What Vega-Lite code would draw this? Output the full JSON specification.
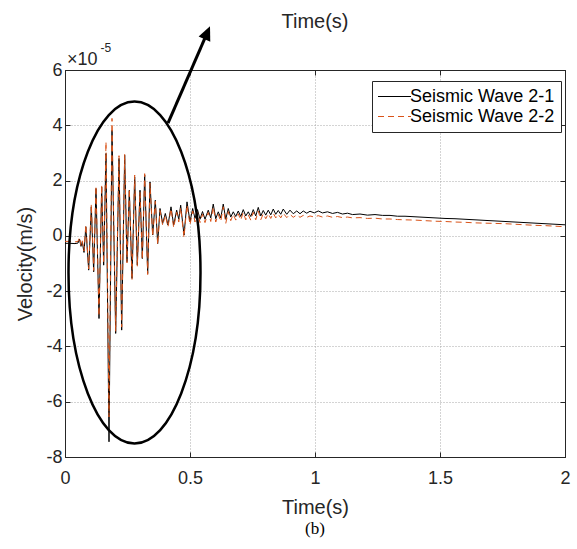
{
  "$schema": "https://vega.github.io/schema/vega-lite/v6.json",
  "width": 500,
  "height": 387,
  "autosize": {"type": "none"},
  "padding": {"left": 65, "top": 70, "right": 12, "bottom": 92},
  "background": "white",
  "config": {
    "font": "Liberation Sans",
    "view": {"stroke": "#333333", "strokeWidth": 1}
  },
  "title": {"text": "(b)", "orient": "bottom", "font": "Liberation Serif", "fontSize": 17, "fontWeight": "normal", "color": "#000000", "offset": 4},
  "datasets": {
    "w1": [
      {"t":0,"v":-0.27},{"t":0.02,"v":-0.27},{"t":0.04,"v":-0.28},{"t":0.052,"v":-0.26},{"t":0.058,"v":-0.12},{"t":0.064,"v":-0.38},{"t":0.069,"v":-0.22},{"t":0.076,"v":-0.6},{"t":0.0833,"v":0.33},{"t":0.0947,"v":-1.24},{"t":0.1053,"v":1.05},{"t":0.1147,"v":-1.3},{"t":0.124,"v":1.71},{"t":0.136,"v":-2.99},{"t":0.1467,"v":1.77},{"t":0.1547,"v":-1.06},{"t":0.164,"v":2.98},{"t":0.176,"v":-7.45},{"t":0.188,"v":3.82},{"t":0.2027,"v":-3.53},{"t":0.216,"v":2.8},{"t":0.2267,"v":-3.41},{"t":0.2387,"v":2.92},{"t":0.248,"v":-0.94},{"t":0.2573,"v":1.65},{"t":0.268,"v":-1.54},{"t":0.2787,"v":2.13},{"t":0.2893,"v":-1.06},{"t":0.3,"v":1.65},{"t":0.3093,"v":-0.82},{"t":0.3187,"v":2.2},{"t":0.3307,"v":-1.36},{"t":0.34,"v":1.95},{"t":0.3507,"v":0.03},{"t":0.3613,"v":1.29},{"t":0.3707,"v":-0.28},{"t":0.38,"v":0.99},{"t":0.3907,"v":0.45},{"t":0.4013,"v":0.81},{"t":0.412,"v":0.39},{"t":0.424,"v":1.05},{"t":0.4347,"v":0.39},{"t":0.4467,"v":0.93},{"t":0.455,"v":0.6},{"t":0.4627,"v":1.11},{"t":0.476,"v":0.03},{"t":0.488,"v":1.23},{"t":0.5,"v":0.51},{"t":0.5107,"v":0.99},{"t":0.52,"v":0.63},{"t":0.53,"v":0.95},{"t":0.54,"v":0.6},{"t":0.55,"v":0.88},{"t":0.56,"v":0.6},{"t":0.573,"v":0.93},{"t":0.583,"v":0.65},{"t":0.593,"v":1.15},{"t":0.603,"v":0.62},{"t":0.613,"v":0.87},{"t":0.623,"v":0.65},{"t":0.633,"v":1.15},{"t":0.643,"v":0.6},{"t":0.653,"v":0.99},{"t":0.663,"v":0.68},{"t":0.673,"v":0.87},{"t":0.683,"v":0.7},{"t":0.693,"v":0.9},{"t":0.703,"v":0.7},{"t":0.713,"v":0.95},{"t":0.723,"v":0.72},{"t":0.733,"v":0.87},{"t":0.743,"v":0.7},{"t":0.753,"v":0.95},{"t":0.763,"v":0.72},{"t":0.773,"v":1.03},{"t":0.783,"v":0.72},{"t":0.793,"v":0.92},{"t":0.803,"v":0.75},{"t":0.813,"v":0.93},{"t":0.823,"v":0.76},{"t":0.833,"v":0.97},{"t":0.843,"v":0.78},{"t":0.853,"v":0.92},{"t":0.863,"v":0.78},{"t":0.873,"v":0.97},{"t":0.887,"v":0.78},{"t":0.9,"v":0.93},{"t":0.913,"v":0.8},{"t":0.927,"v":0.9},{"t":0.94,"v":0.8},{"t":0.953,"v":0.9},{"t":0.967,"v":0.82},{"t":0.98,"v":0.89},{"t":0.997,"v":0.83},{"t":1.013,"v":0.9},{"t":1.03,"v":0.83},{"t":1.05,"v":0.87},{"t":1.07,"v":0.81},{"t":1.09,"v":0.85},{"t":1.11,"v":0.79},{"t":1.13,"v":0.82},{"t":1.15,"v":0.77},{"t":1.18,"v":0.79},{"t":1.21,"v":0.75},{"t":1.24,"v":0.77},{"t":1.27,"v":0.74},{"t":1.3,"v":0.74},{"t":1.33,"v":0.71},{"t":1.36,"v":0.71},{"t":1.4,"v":0.69},{"t":1.44,"v":0.67},{"t":1.48,"v":0.65},{"t":1.52,"v":0.63},{"t":1.56,"v":0.62},{"t":1.6,"v":0.6},{"t":1.64,"v":0.58},{"t":1.68,"v":0.56},{"t":1.72,"v":0.54},{"t":1.76,"v":0.52},{"t":1.8,"v":0.5},{"t":1.84,"v":0.48},{"t":1.88,"v":0.46},{"t":1.92,"v":0.44},{"t":1.96,"v":0.42},{"t":2.0,"v":0.4}
    ],
    "w2": [
      {"t":0,"v":-0.2},{"t":0.02,"v":-0.2},{"t":0.04,"v":-0.22},{"t":0.052,"v":-0.2},{"t":0.058,"v":-0.05},{"t":0.064,"v":-0.35},{"t":0.069,"v":-0.18},{"t":0.076,"v":-0.55},{"t":0.0833,"v":0.4},{"t":0.0947,"v":-1.2},{"t":0.1053,"v":1.15},{"t":0.1147,"v":-1.25},{"t":0.124,"v":1.8},{"t":0.136,"v":-2.9},{"t":0.1467,"v":1.85},{"t":0.1547,"v":-1.0},{"t":0.164,"v":3.4},{"t":0.176,"v":-6.55},{"t":0.188,"v":4.25},{"t":0.2027,"v":-3.45},{"t":0.216,"v":2.9},{"t":0.2267,"v":-3.3},{"t":0.2387,"v":2.95},{"t":0.248,"v":-0.98},{"t":0.2573,"v":1.7},{"t":0.268,"v":-1.6},{"t":0.2787,"v":2.2},{"t":0.2893,"v":-1.1},{"t":0.3,"v":1.58},{"t":0.3093,"v":-0.85},{"t":0.3187,"v":2.25},{"t":0.3307,"v":-1.4},{"t":0.34,"v":1.9},{"t":0.3507,"v":-0.02},{"t":0.3613,"v":1.25},{"t":0.3707,"v":-0.32},{"t":0.38,"v":0.92},{"t":0.3907,"v":0.38},{"t":0.4013,"v":0.75},{"t":0.412,"v":0.32},{"t":0.424,"v":0.98},{"t":0.4347,"v":0.3},{"t":0.4467,"v":0.85},{"t":0.455,"v":0.5},{"t":0.4627,"v":1.02},{"t":0.476,"v":-0.05},{"t":0.488,"v":1.12},{"t":0.5,"v":0.4},{"t":0.5107,"v":0.9},{"t":0.52,"v":0.5},{"t":0.53,"v":0.85},{"t":0.54,"v":0.48},{"t":0.55,"v":0.78},{"t":0.56,"v":0.48},{"t":0.573,"v":0.85},{"t":0.583,"v":0.52},{"t":0.593,"v":1.05},{"t":0.603,"v":0.5},{"t":0.613,"v":0.78},{"t":0.623,"v":0.52},{"t":0.633,"v":1.05},{"t":0.643,"v":0.45},{"t":0.653,"v":0.88},{"t":0.663,"v":0.55},{"t":0.673,"v":0.78},{"t":0.683,"v":0.57},{"t":0.693,"v":0.8},{"t":0.703,"v":0.57},{"t":0.713,"v":0.85},{"t":0.723,"v":0.58},{"t":0.733,"v":0.76},{"t":0.743,"v":0.57},{"t":0.753,"v":0.85},{"t":0.763,"v":0.58},{"t":0.773,"v":0.9},{"t":0.783,"v":0.58},{"t":0.793,"v":0.8},{"t":0.803,"v":0.62},{"t":0.813,"v":0.8},{"t":0.823,"v":0.63},{"t":0.833,"v":0.82},{"t":0.843,"v":0.65},{"t":0.853,"v":0.78},{"t":0.863,"v":0.65},{"t":0.873,"v":0.82},{"t":0.887,"v":0.66},{"t":0.9,"v":0.78},{"t":0.913,"v":0.67},{"t":0.927,"v":0.76},{"t":0.94,"v":0.67},{"t":0.953,"v":0.74},{"t":0.967,"v":0.67},{"t":0.98,"v":0.72},{"t":0.997,"v":0.68},{"t":1.013,"v":0.73},{"t":1.03,"v":0.68},{"t":1.05,"v":0.72},{"t":1.07,"v":0.67},{"t":1.09,"v":0.7},{"t":1.11,"v":0.66},{"t":1.13,"v":0.68},{"t":1.15,"v":0.65},{"t":1.18,"v":0.66},{"t":1.21,"v":0.63},{"t":1.24,"v":0.64},{"t":1.27,"v":0.61},{"t":1.3,"v":0.61},{"t":1.33,"v":0.59},{"t":1.36,"v":0.58},{"t":1.4,"v":0.57},{"t":1.44,"v":0.55},{"t":1.48,"v":0.53},{"t":1.52,"v":0.52},{"t":1.56,"v":0.5},{"t":1.6,"v":0.49},{"t":1.64,"v":0.47},{"t":1.68,"v":0.46},{"t":1.72,"v":0.45},{"t":1.76,"v":0.44},{"t":1.8,"v":0.42},{"t":1.84,"v":0.4},{"t":1.88,"v":0.38},{"t":1.92,"v":0.37},{"t":1.96,"v":0.35},{"t":2.0,"v":0.33}
    ]
  },
  "resolve": {"axis": {"x": "independent", "y": "independent"}},
  "layer": [
    {
      "data": {"name": "w1"},
      "mark": {"type": "line", "strokeWidth": 1},
      "encoding": {
        "x": {"field": "t", "type": "quantitative", "scale": {"domain": [0, 2], "nice": false, "zero": false},
          "axis": {"orient": "bottom", "values": [0, 0.5, 1, 1.5, 2], "format": "~g", "title": "Time(s)", "titleFont": "Liberation Sans", "titleFontSize": 20, "titleFontWeight": "normal", "titleColor": "#262626", "titlePadding": 10, "labelFont": "Liberation Sans", "labelFontSize": 18, "labelColor": "#262626", "labelPadding": 17, "labelFlush": false, "labelOverlap": false, "tickSize": -5, "tickColor": "#262626", "domainColor": "#262626", "grid": true, "gridDash": [1, 2], "gridColor": "#a8a8a8", "gridWidth": 1}},
        "y": {"field": "v", "type": "quantitative", "scale": {"domain": [-8, 6], "nice": false, "zero": false},
          "axis": {"orient": "left", "values": [-8, -6, -4, -2, 0, 2, 4, 6], "labelExpr": "'' + datum.value", "title": "Velocity(m/s)", "titleFont": "Liberation Sans", "titleFontSize": 20, "titleFontWeight": "normal", "titleColor": "#262626", "titlePadding": 10, "labelFont": "Liberation Sans", "labelFontSize": 18, "labelColor": "#262626", "labelPadding": 8, "labelFlush": false, "labelOverlap": false, "tickSize": -5, "tickColor": "#262626", "domainColor": "#262626", "grid": true, "gridDash": [1, 2], "gridColor": "#a8a8a8", "gridWidth": 1}},
        "color": {"datum": "Seismic Wave 2-1", "type": "nominal",
          "scale": {"domain": ["Seismic Wave 2-1", "Seismic Wave 2-2"], "range": ["#000000", "#D95319"]},
          "legend": {"title": null, "orient": "none", "legendX": 307, "legendY": 11, "direction": "vertical", "strokeColor": "#262626", "fillColor": "#ffffff", "padding": 6, "rowPadding": 1, "symbolType": "M -1.94 0 L 1.94 0", "symbolSize": 289, "symbolStrokeWidth": 1.2, "labelFont": "Liberation Sans", "labelFontSize": 18, "labelColor": "#000000", "labelOffset": 13,
            "encode": {"symbols": {"update": {"x": {"value": 16.5}, "strokeDash": {"signal": "datum.value === 'Seismic Wave 2-2' ? [6, 4] : [1, 0]"}}}}}}
      }
    },
    {
      "data": {"name": "w2"},
      "mark": {"type": "line", "strokeWidth": 1, "strokeDash": [6, 4]},
      "encoding": {
        "x": {"field": "t", "type": "quantitative", "scale": {"domain": [0, 2], "nice": false, "zero": false}, "axis": null},
        "y": {"field": "v", "type": "quantitative", "scale": {"domain": [-8, 6], "nice": false, "zero": false}, "axis": null},
        "color": {"datum": "Seismic Wave 2-2", "type": "nominal"}
      }
    },
    {
      "data": {"values": [{}]},
      "mark": {"type": "point", "shape": "M 0 -1 A 0.386 1 0 1 1 0 1 A 0.386 1 0 1 1 0 -1 Z", "filled": false, "stroke": "#000000", "strokeWidth": 2.5, "size": 116964, "opacity": 1},
      "encoding": {
        "x": {"datum": 0.278, "type": "quantitative", "scale": {"domain": [0, 2], "nice": false, "zero": false}, "axis": null},
        "y": {"datum": -1.33, "type": "quantitative", "scale": {"domain": [-8, 6], "nice": false, "zero": false}, "axis": null}
      }
    },
    {
      "data": {"values": [{}]},
      "mark": {"type": "rule", "strokeWidth": 3, "color": "#000000"},
      "encoding": {
        "x": {"datum": 0.412, "type": "quantitative", "scale": {"domain": [0, 2], "nice": false, "zero": false}, "axis": null},
        "y": {"datum": 4.08, "type": "quantitative", "scale": {"domain": [-8, 6], "nice": false, "zero": false}, "axis": null},
        "x2": {"datum": 0.561},
        "y2": {"datum": 7.18}
      }
    },
    {
      "data": {"values": [{}]},
      "mark": {"type": "point", "shape": "M 0 0 L 0.5 1.1 L -0.5 1.1 Z", "filled": true, "fill": "#000000", "size": 645, "angle": 23.4, "opacity": 1},
      "encoding": {
        "x": {"datum": 0.58, "type": "quantitative", "scale": {"domain": [0, 2], "nice": false, "zero": false}, "axis": null},
        "y": {"datum": 7.58, "type": "quantitative", "scale": {"domain": [-8, 6], "nice": false, "zero": false}, "axis": null}
      }
    },
    {
      "data": {"values": [{}]},
      "mark": {"type": "text", "text": "Time(s)", "font": "Liberation Sans", "fontSize": 20, "color": "#262626", "baseline": "middle", "align": "center"},
      "encoding": {
        "x": {"datum": 1.0, "type": "quantitative", "scale": {"domain": [0, 2], "nice": false, "zero": false},
          "axis": {"orient": "top", "values": [0, 0.5, 1, 1.5, 2], "labels": false, "title": null, "tickSize": -5, "tickColor": "#262626", "domainColor": "#262626", "grid": false}},
        "y": {"datum": 7.73, "type": "quantitative", "scale": {"domain": [-8, 6], "nice": false, "zero": false},
          "axis": {"orient": "right", "values": [-8, -6, -4, -2, 0, 2, 4, 6], "labels": false, "title": null, "tickSize": -5, "tickColor": "#262626", "domainColor": "#262626", "grid": false}}
      }
    },
    {
      "data": {"values": [{}]},
      "mark": {"type": "text", "text": "×10", "font": "Liberation Sans", "fontSize": 18, "color": "#262626", "baseline": "alphabetic", "align": "left"},
      "encoding": {
        "x": {"datum": 0.008, "type": "quantitative", "scale": {"domain": [0, 2], "nice": false, "zero": false}, "axis": null},
        "y": {"datum": 6.17, "type": "quantitative", "scale": {"domain": [-8, 6], "nice": false, "zero": false}, "axis": null}
      }
    },
    {
      "data": {"values": [{}]},
      "mark": {"type": "text", "text": "-5", "font": "Liberation Sans", "fontSize": 12, "color": "#262626", "baseline": "alphabetic", "align": "left"},
      "encoding": {
        "x": {"datum": 0.142, "type": "quantitative", "scale": {"domain": [0, 2], "nice": false, "zero": false}, "axis": null},
        "y": {"datum": 6.64, "type": "quantitative", "scale": {"domain": [-8, 6], "nice": false, "zero": false}, "axis": null}
      }
    }
  ]
}
